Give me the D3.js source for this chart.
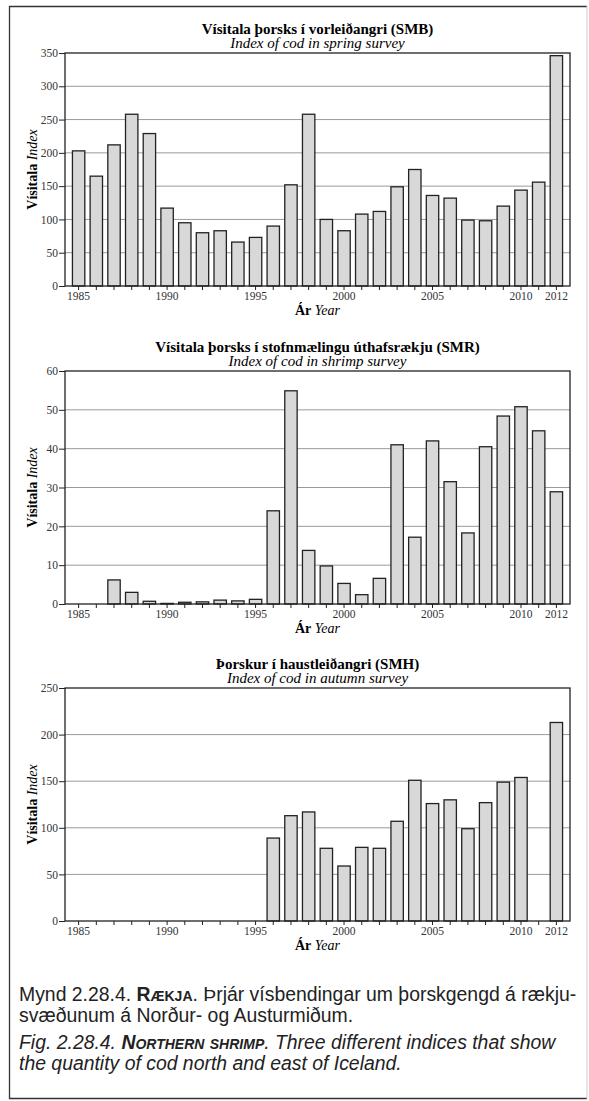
<!DOCTYPE html>
<html>
<head>
<meta charset="utf-8">
<script src="https://cdn.jsdelivr.net/npm/d3@7"></script>
<style>
  body { margin: 0; background: #fff; }
  text.serif { font-family: "Liberation Serif", "DejaVu Serif", serif; }
  text.sans { font-family: "Liberation Sans", Arial, sans-serif; }
</style>
</head>
<body>
<script>
// --- data ---
const years = [1985, 1986, 1987, 1988, 1989, 1990, 1991, 1992, 1993, 1994,
               1995, 1996, 1997, 1998, 1999, 2000, 2001, 2002, 2003, 2004,
               2005, 2006, 2007, 2008, 2009, 2010, 2011, 2012];
const xTickLabels = [1985, 1990, 1995, 2000, 2005, 2010, 2012];

// spring survey (SMB)
const smbIndex = [203, 165, 212, 258, 229, 117, 95, 80, 83, 66,
                  73, 90, 152, 258, 100, 83, 108, 112, 149, 175,
                  136, 132, 99, 98, 120, 144, 156, 346];
const smbTicks = [0, 50, 100, 150, 200, 250, 300, 350];

// shrimp survey (SMR)
const smrIndex = [null, null, 6.2, 3.0, 0.7, 0.15, 0.45, 0.55, 1.0, 0.8,
                  1.2, 24, 54.9, 13.8, 9.8, 5.3, 2.4, 6.6, 41, 17.2,
                  42, 31.5, 18.3, 40.5, 48.4, 50.8, 44.6, 28.9];
const smrTicks = [0, 10, 20, 30, 40, 50, 60];

// autumn survey (SMH)
const smhIndex = [null, null, null, null, null, null, null, null, null, null,
                  null, 89, 113, 117, 78, 59, 79, 78, 107, 151,
                  126, 130, 99, 127, 149, 154, null, 213];
const smhTicks = [0, 50, 100, 150, 200, 250];

const panels = [
  { title: "Vísitala þorsks í vorleiðangri (SMB)", sub: "Index of cod in spring survey",
    values: smbIndex, ticks: smbTicks, top: 53 },
  { title: "Vísitala þorsks í stofnmælingu úthafsrækju (SMR)", sub: "Index of cod in shrimp survey",
    values: smrIndex, ticks: smrTicks, top: 371 },
  { title: "Þorskur í haustleiðangri (SMH)", sub: "Index of cod in autumn survey",
    values: smhIndex, ticks: smhTicks, top: 688 }
];

const width = 589, height = 1101;
const left = 65, right = 570, plotH = 233;

const svg = d3.select("body").append("svg")
    .attr("width", width)
    .attr("height", height);

// outer frame of the figure
svg.append("path")
    .attr("d", "M587,6.5 H9.5 V1098.5 H587")
    .style("fill", "none")
    .style("stroke", "#333")
    .style("stroke-width", 1.3);
svg.append("line")
    .attr("x1", 587).attr("x2", 587).attr("y1", 6).attr("y2", 1099)
    .style("stroke", "#ccc");

const x = d3.scaleBand()
    .domain(years)
    .range([left, right])
    .paddingInner(0.3)
    .paddingOuter(0.42);

panels.forEach(p => {
  const bottom = p.top + plotH;
  const y = d3.scaleLinear()
      .domain([0, d3.max(p.ticks)])
      .range([bottom, p.top]);
  const g = svg.append("g");
  const cx = (left + right) / 2;

  g.append("text").attr("class", "serif")
      .attr("x", cx).attr("y", p.top - 19)
      .attr("text-anchor", "middle")
      .style("font-size", "15px")
      .style("font-weight", "bold")
      .text(p.title);
  g.append("text").attr("class", "serif")
      .attr("x", cx).attr("y", p.top - 5)
      .attr("text-anchor", "middle")
      .style("font-size", "15px")
      .style("font-style", "italic")
      .text(p.sub);

  // grid
  g.selectAll(".grid")
    .data(p.ticks.slice(1, -1))
    .join("line")
      .attr("x1", left).attr("x2", right)
      .attr("y1", d => y(d)).attr("y2", d => y(d))
      .style("stroke", "#9a9a9a")
      .style("stroke-width", 1);

  // bars
  const rows = years.map((yr, i) => ({ year: yr, v: p.values[i] }))
      .filter(d => d.v !== null);
  g.selectAll(".bar")
    .data(rows)
    .join("rect")
      .attr("x", d => x(d.year))
      .attr("width", x.bandwidth())
      .attr("y", d => y(d.v))
      .attr("height", d => y(0) - y(d.v))
      .style("fill", "#d8d8d8")
      .style("stroke", "#222")
      .style("stroke-width", 1.3);

  // plot frame
  g.append("rect")
      .attr("x", left).attr("y", p.top)
      .attr("width", right - left).attr("height", plotH)
      .style("fill", "none")
      .style("stroke", "#222")
      .style("stroke-width", 1.3);

  const yAxis = d3.axisLeft(y).tickValues(p.ticks).tickSize(6).tickPadding(1);
  g.append("g")
      .attr("transform", `translate(${left},0)`)
      .call(yAxis)
      .call(a => a.select(".domain").remove())
      .call(a => a.selectAll("line").style("stroke", "#222"))
      .call(a => a.selectAll("text")
          .attr("class", "serif")
          .style("font-size", "11.5px")
          .style("fill", "#333"));

  const xAxis = d3.axisBottom(x)
      .tickValues(years)
      .tickFormat(d => xTickLabels.includes(d) ? d : "")
      .tickSize(4)
      .tickPadding(2);
  g.append("g")
      .attr("transform", `translate(0,${bottom})`)
      .call(xAxis)
      .call(a => a.select(".domain").remove())
      .call(a => a.selectAll("line").style("stroke", "#222"))
      .call(a => a.selectAll("text")
          .attr("class", "serif")
          .style("font-size", "11.5px")
          .style("fill", "#333"));

  // axis titles
  const xl = g.append("text").attr("class", "serif")
      .attr("x", cx).attr("y", bottom + 29)
      .attr("text-anchor", "middle")
      .style("font-size", "14px");
  xl.append("tspan").style("font-weight", "bold").text("Ár");
  xl.append("tspan").style("font-style", "italic").text("  Year");

  const yl = g.append("text").attr("class", "serif")
      .attr("transform", `translate(37,${(p.top + bottom) / 2}) rotate(-90)`)
      .attr("text-anchor", "middle")
      .style("font-size", "14px");
  yl.append("tspan").style("font-weight", "bold").text("Vísitala");
  yl.append("tspan").style("font-style", "italic").text("  Index");
});

// caption
const cap = svg.append("g").style("fill", "#222");
const capText = (yPos) => cap.append("text").attr("class", "sans")
    .attr("x", 19).attr("y", yPos)
    .style("font-size", "19.4px");

const l1 = capText(1001);
l1.append("tspan").text("Mynd 2.28.4. ");
l1.append("tspan").style("font-weight", "bold").style("font-variant", "small-caps").text("Rækja");
l1.append("tspan").text(". Þrjár vísbendingar um þorskgengd á rækju-");
capText(1022).text("svæðunum á Norður- og Austurmiðum.");

const l3 = capText(1049).style("font-style", "italic");
l3.append("tspan").text("Fig. 2.28.4. ");
l3.append("tspan").style("font-weight", "bold").style("font-variant", "small-caps").text("Northern shrimp");
l3.append("tspan").text(". Three different indices that show");
capText(1070).style("font-style", "italic")
    .text("the quantity of cod north and east of Iceland.");
</script>
</body>
</html>
